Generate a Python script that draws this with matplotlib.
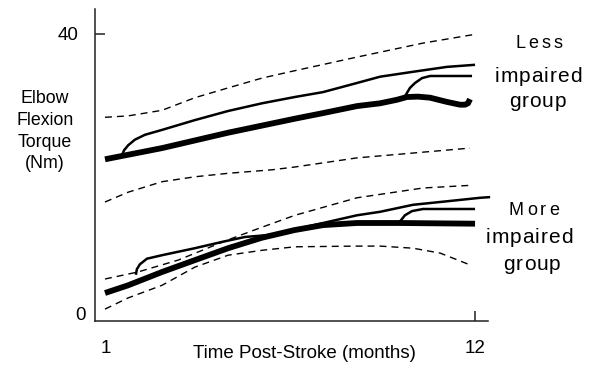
import matplotlib
matplotlib.use("Agg")
import matplotlib.pyplot as plt
from matplotlib.font_manager import FontProperties

FONT = "Liberation Sans"
plt.rcParams['font.family'] = [FONT, 'DejaVu Sans']

# ---------------- data (months, Nm) ----------------
less_upper_x = [0.97, 1.66, 2.67, 3.65, 4.64, 5.65, 6.48, 8.48, 10.45, 12.06]
less_upper_y = [28.1, 28.3, 29.1, 30.9, 32.3, 33.7, 34.6, 36.7, 38.7, 40.0]

less_lower_x = [0.97, 1.66, 2.67, 3.65, 4.64, 5.95, 6.63, 8.48, 11.85]
less_lower_y = [16.0, 17.4, 18.9, 19.6, 20.1, 20.6, 21.0, 22.3, 23.7]

less_mean_x = [0.97, 2.67, 4.64, 6.63, 7.47, 8.48, 9.17, 9.67, 9.97, 10.3, 10.66,
               11.16, 11.55, 11.70, 11.79, 11.85]
less_mean_y = [22.1, 23.7, 25.9, 27.9, 28.7, 29.7, 30.1, 30.6, 31.0, 31.05, 30.9,
               30.3, 29.9, 29.9, 30.1, 30.7]

less_ind1_x = [1.45, 1.54, 1.66, 1.86, 2.16, 2.67, 3.65, 4.64, 5.65, 6.63, 7.47, 8.48,
               9.17, 10.15, 11.16, 12.0]
less_ind1_y = [22.4, 23.4, 24.1, 24.9, 25.6, 26.3, 27.7, 29.0, 30.1, 31.0, 31.7, 33.0,
               33.9, 34.6, 35.3, 35.6]

less_ind2_x = [9.91, 10.06, 10.21, 10.42, 10.66, 11.91]
less_ind2_y = [31.1, 32.3, 33.0, 33.7, 34.0, 34.0]

more_upper_x = [0.97, 1.95, 3.15, 4.64, 5.65, 6.63, 8.48, 10.45, 11.94]
more_upper_y = [5.0, 6.0, 7.7, 10.6, 12.4, 14.1, 16.6, 18.0, 18.4]

more_lower_x = [0.97, 1.66, 2.67, 3.65, 4.64, 5.65, 6.63, 8.48, 9.17, 10.15, 10.96, 11.91]
more_lower_y = [0.7, 2.3, 4.1, 6.7, 8.4, 9.1, 9.6, 9.7, 9.7, 9.4, 8.7, 6.9]

more_mean_x = [0.97, 1.66, 2.67, 3.65, 4.64, 5.65, 6.63, 7.47, 8.48, 9.76, 12.0]
more_mean_y = [3.0, 4.1, 6.0, 7.7, 9.4, 10.9, 12.0, 12.7, 13.0, 13.0, 12.9]

more_ind1_x = [1.89, 1.92, 2.01, 2.22, 2.67, 3.65, 4.46, 5.14, 5.89, 6.63, 7.47, 8.48,
               9.17, 10.15, 11.16, 12.15, 12.45]
more_ind1_y = [5.6, 6.4, 7.1, 7.9, 8.4, 9.4, 10.3, 11.0, 11.3, 12.1, 13.0, 14.1,
               14.6, 15.6, 16.1, 16.6, 16.7]

more_ind2_x = [9.76, 9.91, 10.12, 10.45, 12.0]
more_ind2_y = [13.2, 14.1, 14.7, 15.0, 15.0]

x_ticks = [1, 12]
x_tick_labels = ["1", "12"]
y_ticks = [0, 40]
y_tick_labels = ["0", "40"]

W, H = 596, 368
fig = plt.figure(figsize=(W / 100, H / 100), dpi=100)
ax = fig.add_axes([95 / W, 1 - 321 / H, (488 - 95) / W, (321 - 9) / H])
ax.set_xlim(0.672, 12.386)
ax.set_ylim(-1.0, 43.57)

dash = dict(color="black", lw=1.0, linestyle=(0, (5, 3.6)))
thin = dict(color="black", lw=1.8, solid_capstyle="butt", solid_joinstyle="round")
thick = dict(color="black", lw=4.2, solid_capstyle="butt", solid_joinstyle="round")

ax.plot(less_upper_x, less_upper_y, **dash)
ax.plot(less_lower_x, less_lower_y, **dash)
ax.plot(more_upper_x, more_upper_y, **dash)
ax.plot(more_lower_x, more_lower_y, **dash)
ax.plot(less_ind1_x, less_ind1_y, **thin)
ax.plot(less_ind2_x, less_ind2_y, **thin)
ax.plot(more_ind1_x, more_ind1_y, **thin, clip_on=False)
ax.plot(more_ind2_x, more_ind2_y, **thin)
ax.plot(less_mean_x, less_mean_y, **thick)
ax.plot(more_mean_x, more_mean_y, **thick)

for s in ["top", "right"]:
    ax.spines[s].set_visible(False)
for s in ["left", "bottom"]:
    ax.spines[s].set_linewidth(1.1)
    ax.spines[s].set_color("#222222")

ax.set_xticks(x_ticks)
ax.set_xticklabels(x_tick_labels, fontsize=13.5)
ax.set_yticks(y_ticks)
ax.set_yticklabels(y_tick_labels, fontsize=13.5)
ax.tick_params(direction="in", length=7.2, width=1.1, color="#222222")
xt = ax.xaxis.get_major_ticks()
yt = ax.yaxis.get_major_ticks()
xt[0].tick1line.set_visible(False)
yt[0].tick1line.set_visible(False)
for t in xt:
    t.set_pad(13.5)
yt[0].set_pad(7)
yt[1].set_pad(12)


def fx(px):
    return px / W


def fy(py):
    return 1 - py / H


fig.text(fx(304.5), fy(358), "Time Post-Stroke (months)", fontsize=13.5,
         ha="center", va="baseline")

for line, base in zip(["Elbow", "Flexion", "Torque", "(Nm)"], [103, 125, 147, 168]):
    fig.text(fx(45), fy(base), line, fontsize=12.8, ha="center", va="baseline")

renderer = fig.canvas.get_renderer()


def text_w(s, size):
    prop = FontProperties(family=FONT, size=size)
    return renderer.get_text_width_height_descent(s, prop, ismath=False)[0]


def spaced(cx, base, s, size, gap):
    ref = text_w("nn", size)
    advs = [text_w("n" + ch + "n", size) - ref for ch in s]
    total = sum(advs) + gap * (len(s) - 1)
    pen = cx - total / 2
    for ch, a in zip(s, advs):
        fig.text(fx(pen + a / 2), fy(base), ch, fontsize=size, ha="center", va="baseline")
        pen += a + gap


for txt, cx, base, size, gap in [("Less", 539, 48, 13, 3.0),
                                 ("impaired", 538, 82, 15, 1.0),
                                 ("group", 537.5, 107, 15, 1.0),
                                 ("More", 534, 215, 13, 3.4),
                                 ("impaired", 529, 243, 15, 1.0),
                                 ("group", 532, 270, 15, 1.0)]:
    spaced(cx, base, txt, size, gap)

fig.savefig("out.png", dpi=100)
